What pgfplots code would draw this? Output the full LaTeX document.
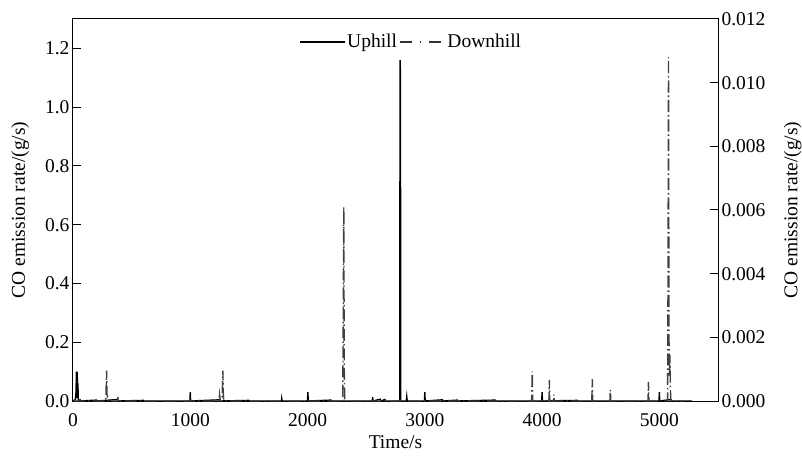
\documentclass[border=0pt]{standalone}
\usepackage{fontspec}
\setmainfont{Liberation Serif}
\usepackage{pgfplots}
\pgfplotsset{compat=1.18}

\pgfplotsset{
  chartbase/.style={
    scale only axis, width=645pt, height=382pt,
    xmin=0, xmax=5500,
    axis line style={line width=1pt},
    every tick/.style={black, line width=1pt},
    major tick length=8pt,
    tick align=inside,
    /pgf/number format/assume math mode=true,
  },
}

\begin{document}
\begin{tikzpicture}[font=\fontsize{19.5}{23}\selectfont]
\begin{axis}[
  chartbase,
  ymin=0, ymax=1.3,
  xtick={0,1000,2000,3000,4000,5000},
  ytick={0,0.2,0.4,0.6,0.8,1.0,1.2},
  xtick pos=bottom, ytick pos=left,
  xticklabel style={/pgf/number format/set thousands separator={}, yshift=-9pt},
  yticklabel style={/pgf/number format/fixed, /pgf/number format/fixed zerofill, /pgf/number format/precision=1},
  xlabel={Time/s},
  ylabel={CO emission rate/(g/s)},
  xlabel style={at={(axis description cs:0.5,-0.107)}, anchor=center},
  ylabel style={at={(axis description cs:-0.082,0.5)}, anchor=center},
]
\coordinate (sw) at (rel axis cs:0,0);
\addplot[black, line width=1.4pt] coordinates {
  (0,0)(20,0.004)(26,0.03)(29,0.1)(32,0.01)(36,0.1)(39,0.02)(42,0.06)(45,0)
  (60,0.004)(64,0)(200,0.003)(205,0)(380,0.005)(385,0)(600,0.002)(605,0)
  (997,0)(1000,0.03)(1003,0)(1250,0.004)(1255,0)(1500,0.002)(1505,0)
  (1778,0)(1780,0.008)(1783,0)(2000,0)(2003,0.03)(2006,0)(2200,0.003)(2205,0)
  (2552,0)(2555,0.013)(2558,0)(2620,0.006)(2625,0)(2660,0.005)(2665,0)
  (2786,0)(2789,1.16)(2792,1.12)(2795,0)(2842,0)(2846,0.015)(2850,0)
  (2997,0)(3000,0.03)(3003,0)(3150,0.004)(3155,0)(3280,0.003)(3285,0)(3600,0.003)(3605,0)
  (3997,0)(4000,0.03)(4003,0)(4300,0.002)(4305,0)
  (4997,0)(5000,0.03)(5003,0)(5100,0.005)(5105,0)(5280,0)
};
\end{axis}

\begin{axis}[
  chartbase,
  ymin=0, ymax=0.012,
  axis x line=none,
  axis y line*=right,
  ytick={0,0.002,0.004,0.006,0.008,0.010,0.012},
  scaled y ticks=false,
  yticklabel style={/pgf/number format/fixed, /pgf/number format/fixed zerofill, /pgf/number format/precision=3},
  ylabel={CO emission rate/(g/s)},
  ylabel style={at={(axis description cs:1.116,0.5)}, anchor=center},
  legend style={at={(axis description cs:0.524,0.94)}, anchor=center, draw=none, fill=none,
    legend columns=2, column sep=0pt, nodes={inner xsep=2pt}},
  legend image code/.code={\draw[#1] (0pt,0pt) -- (45pt,0pt);},
]
\addlegendimage{black, line width=1.4pt}
\addlegendentry{Uphill}
\addlegendimage{black!80, line width=1.4pt, dash pattern=on 12pt off 8pt on 1.5pt off 8pt}
\addlegendentry{Downhill}
\addplot[black!75, line width=1.4pt, dash pattern=on 12pt off 3pt on 1.5pt off 3pt, forget plot] coordinates {
  (0,0)(280,0)(284,0.0006)(287,0.00095)(290,0.0002)(294,0.00015)(298,0)
  (380,0)(383,0.00012)(386,0)(1245,0)(1250,0.0002)(1256,0)
  (1270,0)(1274,0.0004)(1278,0.00095)(1282,0.0002)(1286,0)
  (2300,0)(2304,0.0025)(2309,0.0061)(2313,0.001)(2317,0)
  (3911,0)(3916,0.00093)(3920,0)(4058,0)(4062,0.00066)(4066,0)
  (4096,0)(4100,0.0002)(4104,0)(4424,0)(4428,0.00069)(4432,0)
  (4578,0)(4582,0.00035)(4586,0)(4903,0)(4907,0.0006)(4911,0)
  (5070,0)(5074,0.004)(5078,0.0108)(5082,0.002)(5086,0.0008)(5090,0.00145)(5094,0.0004)(5098,0)(5200,0)
};
\end{axis}
\pgfresetboundingbox
\path[use as bounding box] (sw) ++(-73pt,-54pt) rectangle ++(802pt,455pt);
\end{tikzpicture}
\end{document}
